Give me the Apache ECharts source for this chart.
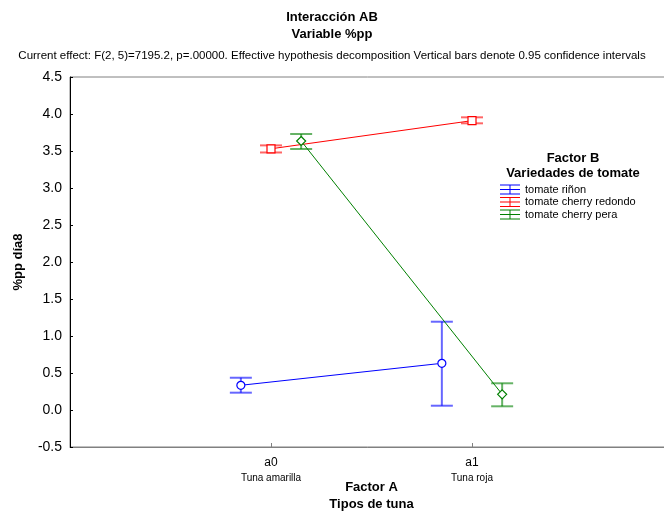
<!DOCTYPE html>
<html><head><meta charset="utf-8">
<script src="https://cdn.jsdelivr.net/npm/echarts@6/dist/echarts.min.js"></script>
<style>html,body{margin:0;padding:0;background:#fff}#c{width:664px;height:513px}</style>
</head><body><div id="c"></div>
<script>
const categories = ['a0', 'a1'];
const categoryNames = ['Tuna amarilla', 'Tuna roja'];
const seriesNames = ['tomate riñon', 'tomate cherry redondo', 'tomate cherry pera'];
const rinonMean = [0.334, 0.631];
const rinonLow = [0.234, 0.058];
const rinonHigh = [0.436, 1.193];
const redondoMean = [3.53, 3.91];
const redondoLow = [3.48, 3.874];
const redondoHigh = [3.576, 3.955];
const peraMean = [3.635, 0.212];
const peraLow = [3.527, 0.05];
const peraHigh = [3.73, 0.361];
const yTicks = [-0.5, 0, 0.5, 1, 1.5, 2, 2.5, 3, 3.5, 4, 4.5];

const colors = ['#0000ff', '#ff0000', '#008000'];
const offsets = [-0.15, 0, 0.15];
const symbols = ['circle', 'rect', 'diamond'];
const means = [rinonMean, redondoMean, peraMean];
const lows = [rinonLow, redondoLow, peraLow];
const highs = [rinonHigh, redondoHigh, peraHigh];
const FONT = '"Liberation Sans", Arial, sans-serif';

const series = [];
means.forEach((m, s) => {
  series.push({
    name: seriesNames[s], type: 'line',
    data: m.map((v, i) => [i + 1 + offsets[s], v]),
    symbol: symbols[s], symbolSize: symbols[s]==='diamond'?9:8,
    lineStyle: {color: colors[s], width: 1},
    itemStyle: {color: '#fff', borderColor: colors[s], borderWidth: 1.2},
    z: 3
  });
  series.push({
    name: seriesNames[s], type: 'custom',
    data: m.map((v, i) => [i + 1 + offsets[s], lows[s][i], highs[s][i]]),
    renderItem: function (params, api) {
      const x = api.value(0);
      const lo = api.coord([x, api.value(1)]);
      const hi = api.coord([x, api.value(2)]);
      const w = 11;
      const st = {stroke: colors[s], lineWidth: 2, opacity: 0.6};
      return {type: 'group', children: [
        {type: 'line', shape: {x1: lo[0], y1: lo[1], x2: hi[0], y2: hi[1]}, style: st},
        {type: 'line', shape: {x1: lo[0]-w, y1: lo[1], x2: lo[0]+w, y2: lo[1]}, style: st},
        {type: 'line', shape: {x1: hi[0]-w, y1: hi[1], x2: hi[0]+w, y2: hi[1]}, style: st}
      ]};
    },
    z: 2
  });
});

const chart = echarts.init(document.getElementById('c'));
chart.setOption({
  animation: false,
  backgroundColor: '#fff',
  textStyle: {fontFamily: FONT},
  title: [
    {text: 'Interacción AB\nVariable %pp', left: 'center', top: 4,
     textStyle: {fontSize: 13, fontWeight: 'bold', color: '#000', lineHeight: 17, fontFamily: FONT}},
    {text: 'Current effect: F(2, 5)=7195.2, p=.00000. Effective hypothesis decomposition Vertical bars denote 0.95 confidence intervals',
     left: 'center', top: 45, textStyle: {fontSize: 11.5, fontWeight: 'normal', color: '#000', fontFamily: FONT}},
    {text: 'Factor B\nVariedades de tomate', left: 568, textAlign: 'center', top: 146,
     textStyle: {fontSize: 13, fontWeight: 'bold', color: '#000', lineHeight: 15, fontFamily: FONT}}
  ],
  legend: {
    orient: 'vertical', left: 495, top: 179, itemGap: 1.5, itemWidth: 20, itemHeight: 10,
    textStyle: {fontSize: 11, color: '#000', fontFamily: FONT},
    data: seriesNames.map((n, s) => ({
      name: n,
      icon: 'path://M0,0H20V1H0ZM0,9H20V10H0ZM0,4.5H20V5.5H0ZM9.5,0H10.5V10H9.5Z',
      itemStyle: {color: colors[s], borderWidth: 0}
    }))
  },
  grid: {left: 70, top: 77, width: 603, height: 370, show: true, borderColor: '#808080', borderWidth: 1,
         outerBoundsMode: 'none', containLabel: false},
  xAxis: {
    type: 'value', min: 0, max: 3,
    name: 'Factor A\nTipos de tuna', nameLocation: 'middle', nameGap: 32, nameMoveOverlap: false,
    nameTextStyle: {fontSize: 13, fontWeight: 'bold', color: '#000', lineHeight: 17, fontFamily: FONT, verticalAlign: 'top'},
    axisLine: {onZero: false, lineStyle: {color: '#808080'}},
    axisTick: {show: true, inside: true, length: 4, customValues: [1, 2], lineStyle: {color: '#808080'}},
    splitLine: {show: false},
    axisLabel: {
      customValues: [1, 2], margin: 8,
      formatter: v => '{a|' + categories[v - 1] + '}\n{b|' + categoryNames[v - 1] + '}',
      rich: {a: {fontSize: 12, color: '#000', lineHeight: 16, fontFamily: FONT},
             b: {fontSize: 10, color: '#000', lineHeight: 15, fontFamily: FONT}}
    }
  },
  yAxis: {
    type: 'value', min: -0.5, max: 4.5, interval: 0.5,
    name: '%pp día8', nameLocation: 'middle', nameGap: 45, nameRotate: 90, nameMoveOverlap: false,
    nameTextStyle: {fontSize: 13, fontWeight: 'bold', color: '#000', fontFamily: FONT},
    axisLine: {show: true, lineStyle: {color: '#000'}},
    axisTick: {show: true, inside: true, length: 3, lineStyle: {color: '#000'}},
    splitLine: {show: false},
    axisLabel: {fontSize: 14, color: '#000', margin: 8, formatter: v => v.toFixed(1), fontFamily: FONT}
  },
  series: series
});
</script></body></html>
